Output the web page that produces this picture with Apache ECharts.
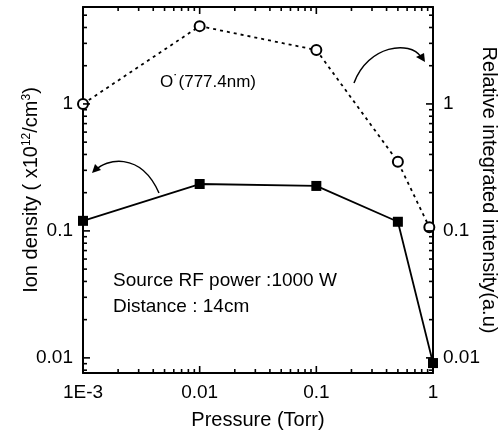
<!DOCTYPE html>
<html><head><meta charset="utf-8">
<script src="https://cdn.jsdelivr.net/npm/echarts@6/dist/echarts.min.js"></script>
<style>html,body{margin:0;padding:0;background:#fff}#c{width:500px;height:439px}</style>
</head><body><div id="c"></div>
<script>
var pressure = [0.001, 0.01, 0.1, 0.5, 1];
var ionDensity = [0.12, 0.234, 0.226, 0.118, 0.0091];
var pressureOES = [0.001, 0.01, 0.1, 0.5, 0.93];
var intensity = [1.0, 4.1, 2.66, 0.35, 0.107];
var xTicks = [0.001, 0.01, 0.1, 1];
var xTickLabels = ['1E-3', '0.01', '0.1', '1'];
var yTicks = [0.01, 0.1, 1];
var yTickLabels = ['0.01', '0.1', '1'];
var xMinorTicks = [0.002,0.003,0.004,0.005,0.006,0.007,0.008,0.009,
                   0.02,0.03,0.04,0.05,0.06,0.07,0.08,0.09,
                   0.2,0.3,0.4,0.5,0.6,0.7,0.8,0.9];
var yMinorTicks = [0.008,0.009,
                   0.02,0.03,0.04,0.05,0.06,0.07,0.08,0.09,
                   0.2,0.3,0.4,0.5,0.6,0.7,0.8,0.9,
                   2,3,4,5];
var X_MIN = 0.001, X_MAX = 1, Y_MIN = 0.0076, Y_MAX = 5.8;

var FONT = 'Liberation Sans';
var chart = echarts.init(document.getElementById('c'), null, {renderer: 'canvas'});
function lab(values, labels){ return function(v){ for (var i = 0; i < values.length; i++) { if (Math.abs(Math.log10(values[i]) - Math.log10(v)) < 1e-6) return labels[i]; } return ''; }; }
function axisLineS(){ return {show: true, lineStyle: {color: '#000', width: 2}}; }
function labelS(extra){ return Object.assign({color: '#000', fontFamily: FONT, fontSize: 19}, extra); }

// inward tick marks, placed through the axes' own scales (api.coord)
function tickSeries(vals, side, len){
  var data = vals.map(function(v){
    if (side === 'bottom') return [v, Y_MIN];
    if (side === 'top') return [v, Y_MAX];
    if (side === 'left') return [X_MIN, v];
    return [X_MAX, v];
  });
  var w = 1.6;
  return {type: 'custom', xAxisIndex: 0, yAxisIndex: 0, data: data, clip: false, silent: true, z: 5,
    renderItem: function(params, api){
      var p = api.coord([api.value(0), api.value(1)]);
      var r;
      if (side === 'bottom') r = {x: p[0] - w / 2, y: p[1] - len, width: w, height: len};
      else if (side === 'top') r = {x: p[0] - w / 2, y: p[1], width: w, height: len};
      else if (side === 'left') r = {x: p[0], y: p[1] - w / 2, width: len, height: w};
      else r = {x: p[0] - len, y: p[1] - w / 2, width: len, height: w};
      return {type: 'rect', shape: r, style: {fill: '#000'}};
    }};
}

chart.setOption({
  animation: false,
  grid: {left: 83, right: 67, top: 7, bottom: 66, outerBoundsMode: 'none', containLabel: false},
  xAxis: [{
    type: 'log', logBase: 10, min: X_MIN, max: X_MAX, position: 'bottom',
    axisLine: axisLineS(), axisTick: {show: false}, splitLine: {show: false},
    axisLabel: labelS({margin: 10, customValues: xTicks, formatter: lab(xTicks, xTickLabels)}),
    name: 'Pressure (Torr)', nameLocation: 'middle', nameGap: 37, nameMoveOverlap: false,
    nameTextStyle: {color: '#000', fontFamily: FONT, fontSize: 20}
  }, {
    type: 'log', logBase: 10, min: X_MIN, max: X_MAX, position: 'top',
    axisLine: axisLineS(), axisTick: {show: false}, splitLine: {show: false},
    axisLabel: {show: false}
  }],
  yAxis: [{
    type: 'log', logBase: 10, min: Y_MIN, max: Y_MAX, position: 'left',
    axisLine: axisLineS(), axisTick: {show: false}, splitLine: {show: false},
    axisLabel: labelS({margin: 10, customValues: yTicks, formatter: lab(yTicks, yTickLabels)}),
    name: 'Ion density ( x10{sup|12}/cm{sup|3})', nameLocation: 'middle', nameGap: 41, nameMoveOverlap: false,
    nameTextStyle: {color: '#000', fontFamily: FONT, fontSize: 20,
      rich: {sup: {fontSize: 12, verticalAlign: 'top', padding: [0,0,9,0], fontFamily: FONT, color: '#000'}}}
  }, {
    type: 'log', logBase: 10, min: Y_MIN, max: Y_MAX, position: 'right',
    axisLine: axisLineS(), axisTick: {show: false}, splitLine: {show: false},
    axisLabel: labelS({margin: 10, customValues: yTicks, formatter: lab(yTicks, yTickLabels)}),
    name: 'Relative integrated intensity(a.u)', nameLocation: 'middle', nameGap: 46, nameRotate: -90, nameMoveOverlap: false,
    nameTextStyle: {color: '#000', fontFamily: FONT, fontSize: 20}
  }],
  series: [{
    type: 'line', xAxisIndex: 0, yAxisIndex: 0,
    data: pressure.map(function(p, i){ return [p, ionDensity[i]]; }),
    symbol: 'rect', symbolSize: 10, showAllSymbol: true, z: 3,
    itemStyle: {color: '#000'}, lineStyle: {color: '#000', width: 1.8}
  }, {
    type: 'line', xAxisIndex: 0, yAxisIndex: 1,
    data: pressureOES.map(function(p, i){ return [p, intensity[i]]; }),
    symbol: 'emptyCircle', symbolSize: 10, showAllSymbol: true, z: 3,
    itemStyle: {color: '#000', borderColor: '#000', borderWidth: 1.3},
    lineStyle: {color: '#000', width: 1.8, type: [3, 4]}
  },
  tickSeries(xTicks, 'bottom', 7), tickSeries(xTicks, 'top', 7),
  tickSeries(yTicks, 'left', 7), tickSeries(yTicks, 'right', 7),
  tickSeries(xMinorTicks, 'bottom', 4), tickSeries(xMinorTicks, 'top', 4),
  tickSeries(yMinorTicks, 'left', 4), tickSeries(yMinorTicks, 'right', 4)
  ],
  graphic: [
    {type: 'text', left: 160, top: 74, style: {text: 'O{s|˙}(777.4nm)', fill: '#000', font: '17px "Liberation Sans"',
      rich: {s: {fontSize: 16, fill: '#000', verticalAlign: 'top'}}}},
    {type: 'text', left: 113, top: 271, style: {text: 'Source RF power :1000 W', fill: '#000', font: '19px "Liberation Sans"'}},
    {type: 'text', left: 113, top: 297, style: {text: 'Distance : 14cm', fill: '#000', font: '19px "Liberation Sans"'}},
    {type: 'bezierCurve', shape: {x1: 159, y1: 193, x2: 96, y2: 170, cpx1: 140, cpy1: 150, cpx2: 105, cpy2: 160},
      style: {stroke: '#000', lineWidth: 1.5, fill: null}},
    {type: 'polygon', shape: {points: [[92, 173], [95, 164], [101, 170]]}, style: {fill: '#000'}},
    {type: 'bezierCurve', shape: {x1: 354, y1: 83, x2: 421, y2: 57, cpx1: 368, cpy1: 45, cpx2: 410, cpy2: 40},
      style: {stroke: '#000', lineWidth: 1.5, fill: null}},
    {type: 'polygon', shape: {points: [[425, 62], [416, 57], [424, 53]]}, style: {fill: '#000'}}
  ]
});
</script></body></html>
